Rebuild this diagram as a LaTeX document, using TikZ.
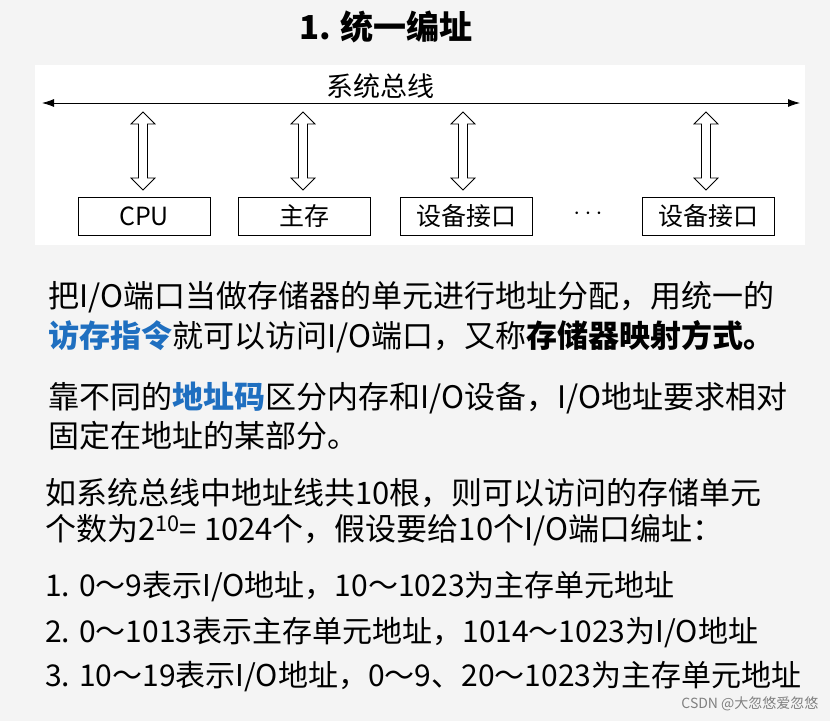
\documentclass[tikz,border=0pt]{standalone}
\usepackage{fontspec}
\setmainfont{Noto Sans CJK SC}
\usetikzlibrary{shapes.arrows,positioning,arrows.meta}
\definecolor{slidebg}{HTML}{F4F4F4}
\definecolor{keyblue}{HTML}{1F6FC0}
\tikzset{
  unit/.style={draw,thick,minimum width=132pt,minimum height=38pt,font=\fontsize{25}{25}\selectfont},
  link/.style={double arrow,draw,thick,fill=white,rotate=90,minimum height=78pt,
    minimum width=24pt,double arrow head extend=4pt,inner sep=2pt},
  para/.style={anchor=west,inner sep=0pt,font=\fontsize{31}{31}\selectfont},
  item/.style={anchor=west,inner sep=0pt,font=\fontsize{30}{30}\selectfont},
}
\newcommand{\key}[1]{\textcolor{keyblue}{\textbf{#1}}}
\begin{document}
\begin{tikzpicture}[x=1pt,y=-1pt]
  \fill[slidebg] (0,0) rectangle (830,721);
  \useasboundingbox (0,0) rectangle (830,721);
  \fill[white] (35,65) rectangle (805,245);
  \node[font=\fontsize{33}{33}\selectfont\bfseries] (title) at (386,27) {1. 统一编址};
  % bus
  \coordinate (busl) at (42,103);
  \coordinate (busr) at (800,103);
  \draw[thick,{Latex[length=12pt,width=8pt]}-{Latex[length=12pt,width=8pt]}] (busl) -- (busr);
  \node[font=\fontsize{27}{27}\selectfont] (buslabel) at (380,86) {系统总线};
  % units
  \node[unit] (cpu) at (144,216) {CPU};
  \node[unit] (mem) at (304,216) {主存};
  \node[unit] (dev1) at (466,216) {设备接口};
  \node[font=\fontsize{24}{24}\selectfont] (dots) at (588,214) {$\cdots$};
  \node[unit] (dev2) at (708,216) {设备接口};
  \foreach \u/\x in {cpu/143,mem/303,dev1/463,dev2/706}
    \node[link] (l\u) at (\x,151) {};
  % text
  \node[para] (p1) at (48,297) {把I/O端口当做存储器的单元进行地址分配，用统一的};
  \node[para] (p2) at (48,337) {\key{访存指令}就可以访问I/O端口，又称\textbf{存储器映射方式。}};
  \node[para] (p3) at (48,398) {靠不同的\key{地址码}区分内存和I/O设备，I/O地址要求相对};
  \node[para] (p4) at (48,436) {固定在地址的某部分。};
  \node[para] (p5) at (45,493) {如系统总线中地址线共10根，则可以访问的存储单元};
  \node[para] (p6) at (45,530) {个数为2\textsuperscript{10}= 1024个，假设要给10个I/O端口编址：};
  \node[item] (i1) at (45,587) {1. 0～9表示I/O地址，10～1023为主存单元地址};
  \node[item] (i2) at (45,633) {2. 0～1013表示主存单元地址，1014～1023为I/O地址};
  \node[item] (i3) at (45,677) {3. 10～19表示I/O地址，0～9、20～1023为主存单元地址};
  \node[anchor=east,font=\fontsize{14}{14}\selectfont,text=gray] (mark) at (822,704) {CSDN @大忽悠爱忽悠};
\end{tikzpicture}
\end{document}
